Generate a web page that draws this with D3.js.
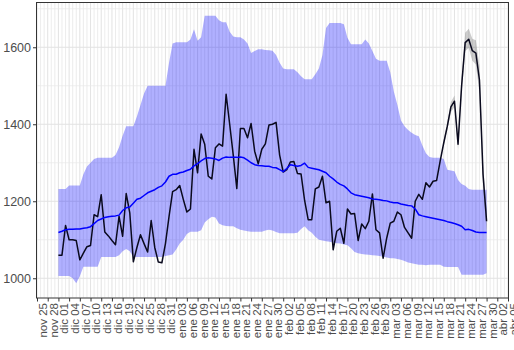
<!DOCTYPE html>
<html>
<head>
<meta charset="utf-8">
<script src="https://cdn.jsdelivr.net/npm/d3@7"></script>
<style>
  html, body { margin: 0; padding: 0; background: #fff; }
  svg { display: block; }
  text { font-family: "Liberation Sans", Arial, sans-serif; }
</style>
</head>
<body>
<svg id="chart" width="514" height="350"></svg>
<script>
// ---------------- data ----------------
const seriesStart = "2023-12-01";          // first day of the series (one value per day)
const axisStart = "2023-11-25";
const axisEnd = "2024-04-05";
const monthAbbr = ["ene","feb","mar","abr","may","jun","jul","ago","sep","oct","nov","dic"];
const yTicks = [1000, 1200, 1400, 1600];
const yMinorTicks = [1100, 1300, 1500, 1700];

// observed values (black line)
const observed = [
 1060,1060,1137,1100,1100,1098,1048,1065,1082,1085,
 1165,1160,1217,1120,1110,1098,1087,1161,1109,1220,
 1170,1043,1080,1113,1090,1068,1150,1080,1042,1040,
 1090,1160,1225,1230,1241,1205,1172,1180,1335,1274,
 1375,1348,1265,1258,1339,1349,1343,1478,1400,1320,
 1233,1389,1389,1365,1402,1330,1297,1335,1349,1398,
 1400,1405,1320,1276,1282,1302,1303,1272,1271,1202,
 1152,1152,1232,1237,1265,1196,1200,1074,1122,1130,
 1091,1180,1167,1168,1098,1141,1129,1148,1219,1126,
 1118,1052,1104,1143,1148,1172,1165,1132,1118,1104,
 1200,1218,1205,1248,1237,1252,1254,1305,1352,1395,
 1445,1460,1348,1500,1612,1621,1591,1585,1515,1270,
 1148
];

// historical mean (blue line)
const meanLine = [
 1119,1122,1126,1127,1127,1128,1128,1130,1131,1134,
 1142,1150,1154,1158,1160,1161,1162,1164,1176,1183,
 1185,1195,1205,1208,1215,1222,1226,1230,1236,1240,
 1250,1265,1270,1270,1274,1276,1280,1283,1292,1298,
 1305,1311,1313,1312,1310,1306,1312,1315,1314,1314,
 1314,1315,1313,1307,1300,1295,1293,1292,1291,1291,
 1288,1287,1282,1277,1285,1295,1293,1291,1293,1299,
 1288,1286,1284,1282,1278,1274,1265,1258,1250,1244,
 1240,1232,1222,1217,1215,1213,1211,1209,1206,1205,
 1204,1202,1201,1198,1196,1196,1193,1191,1189,1188,
 1180,1165,1162,1160,1158,1156,1154,1152,1150,1147,
 1145,1142,1139,1135,1126,1127,1124,1120,1119,1119,
 1119
];

// historical range (blue band) upper / lower
const bandUpper = [
 1232,1232,1232,1241,1241,1241,1241,1270,1290,1300,
 1310,1313,1313,1313,1313,1313,1320,1340,1370,1395,
 1395,1395,1420,1450,1480,1500,1500,1500,1500,1500,
 1500,1560,1610,1613,1613,1613,1613,1620,1647,1617,
 1626,1682,1682,1682,1682,1670,1665,1665,1640,1628,
 1626,1626,1620,1610,1585,1590,1595,1595,1593,1592,
 1591,1580,1560,1545,1543,1543,1543,1535,1525,1517,
 1517,1517,1530,1545,1580,1650,1663,1663,1663,1663,
 1660,1625,1608,1608,1608,1608,1620,1610,1590,1570,
 1565,1565,1565,1535,1485,1450,1410,1395,1385,1378,
 1372,1369,1345,1325,1315,1313,1313,1313,1310,1282,
 1280,1278,1255,1245,1240,1232,1230,1230,1230,1230,
 1230
];
const bandLower = [
 1006,1006,1006,1006,1000, 987,1005,1030,1030,1030,
 1030,1030,1055,1055,1055,1055,1055,1060,1070,1076,
 1070,1055,1055,1055,1055,1055,1055,1055,1055,1055,
 1058,1060,1062,1075,1090,1100,1115,1121,1121,1121,
 1125,1145,1153,1160,1158,1142,1138,1136,1135,1135,
 1130,1126,1124,1122,1121,1121,1121,1121,1124,1126,
 1124,1120,1117,1117,1117,1117,1117,1118,1128,1135,
 1125,1118,1108,1100,1098,1096,1095,1093,1091,1090,
 1088,1086,1078,1068,1065,1063,1062,1061,1060,1059,
 1058,1056,1054,1052,1052,1050,1048,1045,1041,1039,
 1037,1035,1035,1034,1035,1035,1035,1035,1030,1029,
 1029,1029,1029,1009,1009,1009,1009,1009,1009,1009,
 1013
];

// uncertainty of the observed line at the end of the series (gray band)
const ciStart = "2024-03-18";
const ciLower = [1345,1385,1432,1445,1335,1480,1590,1598,1565,1555,1480,1240,1120];
const ciUpper = [1360,1405,1458,1475,1362,1520,1638,1648,1622,1618,1552,1300,1176];

// ---------------- chart ----------------
const parse = d3.timeParse("%Y-%m-%d");
const t0 = parse(seriesStart);
const rows = observed.map((v, i) => ({
  date: d3.timeDay.offset(t0, i), obs: v, mean: meanLine[i], lo: bandLower[i], hi: bandUpper[i]
}));
const c0 = parse(ciStart);
const ciRows = ciLower.map((v, i) => ({ date: d3.timeDay.offset(c0, i), lo: v, hi: ciUpper[i] }));

const panel = { left: 37, right: 508, top: 3, bottom: 297.5 };
const x = d3.scaleTime().domain([parse(axisStart), parse(axisEnd)]).range([panel.left, panel.right]);
const y = d3.scaleLinear().domain([950, 1715]).range([panel.bottom, panel.top]);

const svg = d3.select("#chart");
svg.append("rect").attr("width", 514).attr("height", 350).attr("fill", "#fff");

svg.append("defs").append("clipPath").attr("id", "clip")
  .append("rect").attr("x", panel.left).attr("y", panel.top)
  .attr("width", panel.right - panel.left).attr("height", panel.bottom - panel.top);

const grid = svg.append("g");
const allDays = d3.timeDay.range(parse(axisStart), d3.timeDay.offset(parse(axisEnd), 1));
const tickDays = allDays.filter((d, i) => i % 3 === 0);

// minor vertical (daily)
grid.selectAll("line.vmin").data(allDays.filter((d, i) => i % 3 !== 0)).join("line")
  .attr("x1", d => x(d)).attr("x2", d => x(d))
  .attr("y1", panel.top).attr("y2", panel.bottom)
  .attr("stroke", "#e4e4e4").attr("stroke-width", 0.7);
// major vertical
grid.selectAll("line.vmaj").data(tickDays).join("line")
  .attr("x1", d => x(d)).attr("x2", d => x(d))
  .attr("y1", panel.top).attr("y2", panel.bottom)
  .attr("stroke", "#e4e4e4").attr("stroke-width", 1.07);
// horizontal
grid.selectAll("line.hmin").data(yMinorTicks).join("line")
  .attr("x1", panel.left).attr("x2", panel.right)
  .attr("y1", d => y(d)).attr("y2", d => y(d))
  .attr("stroke", "#e8e8e8").attr("stroke-width", 0.7);
grid.selectAll("line.hmaj").data(yTicks).join("line")
  .attr("x1", panel.left).attr("x2", panel.right)
  .attr("y1", d => y(d)).attr("y2", d => y(d))
  .attr("stroke", "#e2e2e2").attr("stroke-width", 1.1);

const plot = svg.append("g").attr("clip-path", "url(#clip)");

plot.append("path").datum(rows)
  .attr("d", d3.area().x(d => x(d.date)).y0(d => y(d.lo)).y1(d => y(d.hi)))
  .attr("fill", "blue").attr("fill-opacity", 0.31);

plot.append("path").datum(ciRows)
  .attr("d", d3.area().x(d => x(d.date)).y0(d => y(d.lo)).y1(d => y(d.hi)))
  .attr("fill", "#000").attr("fill-opacity", 0.2);

plot.append("path").datum(rows)
  .attr("d", d3.line().x(d => x(d.date)).y(d => y(d.obs)))
  .attr("fill", "none").attr("stroke", "#0a0a1e").attr("stroke-width", 1.5)
  .attr("stroke-linejoin", "round");

plot.append("path").datum(rows)
  .attr("d", d3.line().x(d => x(d.date)).y(d => y(d.mean)))
  .attr("fill", "none").attr("stroke", "blue").attr("stroke-width", 1.5)
  .attr("stroke-linejoin", "round");

// panel border
svg.append("rect")
  .attr("x", panel.left - 0.5).attr("y", panel.top - 0.5)
  .attr("width", panel.right - panel.left + 1).attr("height", panel.bottom - panel.top + 1)
  .attr("fill", "none").attr("stroke", "#333").attr("stroke-width", 1);

// y axis
const fmt = d => monthAbbr[d.getMonth()] + " " + d3.format("02d")(d.getDate());
const yAxis = svg.append("g").attr("transform", `translate(${panel.left - 0.5},0)`)
  .call(d3.axisLeft(y).tickValues(yTicks).tickSize(3.5).tickPadding(2).tickFormat(d3.format("d")));
yAxis.select(".domain").remove();
yAxis.selectAll(".tick line").attr("stroke", "#333");
yAxis.selectAll(".tick text").attr("fill", "#4d4d4d").style("font-size", "12.5px")
  .style("font-family", "'Liberation Sans', Arial, sans-serif");

// x axis (labels rotated, text top aligned to the tick -> glyphs sit right of the tick)
const xAxis = svg.append("g").attr("transform", `translate(0,${panel.bottom + 0.5})`)
  .call(d3.axisBottom(x).tickValues(tickDays).tickSize(3.5).tickFormat(fmt));
xAxis.select(".domain").remove();
xAxis.selectAll(".tick line").attr("stroke", "#333");
xAxis.selectAll(".tick text")
  .attr("fill", "#4d4d4d").style("font-size", "11.5px")
  .style("font-family", "'Liberation Sans', Arial, sans-serif")
  .attr("text-anchor", "end")
  .attr("transform", "rotate(-90)")
  .attr("x", -5).attr("y", 0).attr("dy", "0.82em");
</script>
</body>
</html>
